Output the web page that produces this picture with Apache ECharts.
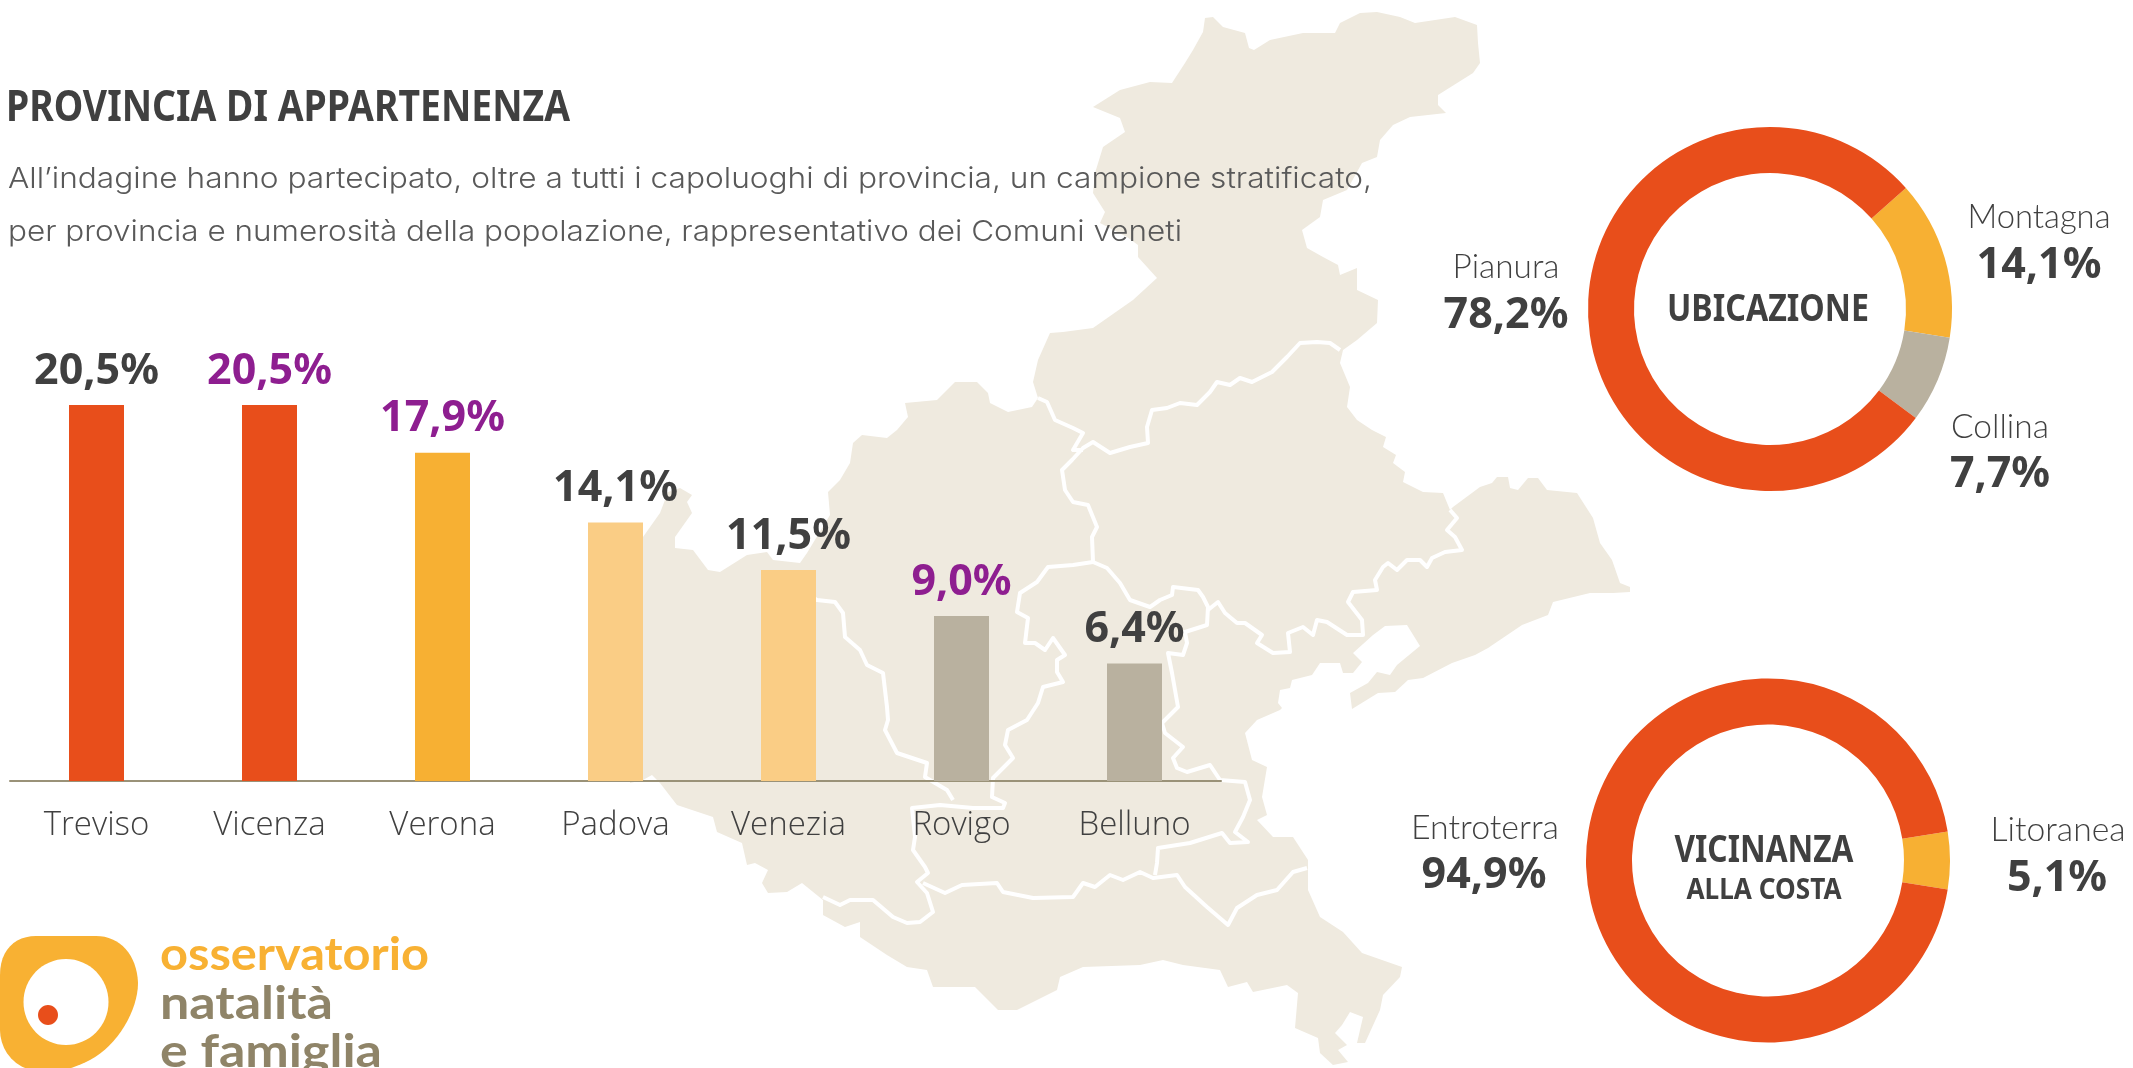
<!DOCTYPE html>
<html><head><meta charset="utf-8">
<style>html,body{margin:0;padding:0;background:#fff}#c{width:2133px;height:1068px}</style>
<script src="https://cdn.jsdelivr.net/npm/echarts@6/dist/echarts.min.js"></script>
</head><body><div id="c"></div>
<script>
const provinces=['Treviso','Vicenza','Verona','Padova','Venezia','Rovigo','Belluno'];
const shares=[20.5,20.5,17.9,14.1,11.5,9.0,6.4];
const barColors=['#E84E1B','#E84E1B','#F7B033','#FACD85','#FACD85','#B9B19F','#B9B19F'];
const labelColors=['#404040','#8E1E90','#8E1E90','#404040','#404040','#8E1E90','#404040'];
const ubicazioneNames=['Montagna','Collina','Pianura'];
const ubicazioneValues=[14.1,7.7,78.2];
const ubicazioneColors=['#F7B033','#B9B19F','#E84E1B'];
const costaNames=['Litoranea','Entroterra'];
const costaValues=[5.1,94.9];
const costaColors=['#F7B033','#E84E1B'];
const BOLD="'Noto Sans'";
const LIGHT="Lato";
const AXISFONT="'Open Sans'";
const fmt=v=>v.toFixed(1).replace('.',',')+'%';

// decorative region silhouette behind the chart (page pixels)
const outline=[[1093,107],[1120,90],[1150,82],[1172,83],[1185,63],[1193,50],[1203,32],[1205,18],[1213,17],[1223,27],[1245,33],[1249,48],[1254,50],[1270,40],[1303,33],[1335,33],[1340,23],[1360,13],[1377,12],[1400,17],[1415,23],[1455,17],[1477,25],[1478,43],[1480,63],[1473,73],[1438,95],[1438,105],[1446,113],[1410,117],[1393,125],[1380,140],[1377,157],[1362,163],[1347,190],[1323,200],[1320,217],[1302,230],[1307,248],[1323,257],[1338,265],[1340,275],[1357,268],[1357,290],[1378,300],[1377,323],[1357,340],[1343,350],[1340,363],[1350,387],[1347,407],[1357,420],[1372,430],[1386,437],[1383,447],[1396,455],[1393,463],[1405,472],[1403,482],[1423,492],[1443,493],[1450,510],[1453,507],[1480,487],[1492,483],[1497,477],[1508,477],[1510,488],[1518,490],[1528,478],[1538,478],[1547,490],[1577,493],[1593,518],[1600,543],[1612,560],[1620,583],[1630,587],[1630,592],[1613,593],[1590,593],[1553,602],[1548,615],[1522,625],[1488,648],[1475,655],[1452,663],[1423,678],[1408,680],[1395,692],[1378,693],[1352,709],[1350,693],[1368,683],[1377,672],[1390,675],[1397,665],[1420,646],[1407,625],[1385,626],[1373,635],[1353,653],[1362,662],[1353,673],[1343,673],[1340,663],[1320,663],[1312,675],[1292,680],[1290,688],[1280,690],[1278,703],[1282,708],[1280,710],[1257,720],[1245,733],[1252,760],[1267,767],[1262,797],[1267,815],[1257,820],[1273,837],[1293,837],[1308,860],[1308,890],[1320,917],[1343,932],[1362,953],[1402,967],[1400,977],[1383,995],[1380,1010],[1365,1043],[1357,1043],[1363,1017],[1350,1012],[1342,1025],[1335,1033],[1347,1045],[1338,1050],[1348,1062],[1333,1065],[1320,1053],[1318,1038],[1295,1028],[1298,993],[1287,985],[1253,992],[1247,982],[1228,987],[1220,970],[1183,965],[1163,960],[1140,965],[1083,967],[1060,977],[1057,990],[1017,1010],[998,1010],[975,987],[933,987],[927,970],[907,967],[887,955],[860,937],[860,922],[845,927],[823,915],[823,900],[802,883],[787,892],[768,893],[762,883],[768,870],[755,863],[747,865],[742,843],[717,832],[713,817],[677,805],[660,783],[652,775],[643,780],[630,783],[630,540],[643,537],[660,513],[668,492],[680,488],[692,495],[687,502],[692,513],[675,537],[675,548],[693,550],[708,570],[720,572],[747,555],[767,552],[773,560],[800,563],[807,553],[830,515],[828,492],[840,480],[850,463],[853,443],[862,435],[887,438],[897,430],[908,417],[905,403],[937,400],[955,382],[977,382],[988,393],[990,403],[1008,412],[1032,407],[1038,398],[1033,382],[1038,360],[1050,333],[1063,332],[1093,328],[1133,300],[1157,278],[1138,257],[1138,245],[1127,237],[1100,223],[1105,212],[1093,193],[1095,173],[1103,147],[1125,132],[1120,118]];
const borders=[
[[1340,350],[1330,343],[1317,342],[1300,343],[1287,357],[1272,372],[1252,382],[1240,378],[1230,385],[1217,382],[1210,392],[1197,405],[1180,403],[1167,408],[1152,410],[1147,427],[1148,443],[1130,447],[1110,453],[1093,442],[1083,448],[1072,460],[1062,470],[1065,490],[1073,502],[1088,505],[1097,527],[1092,537],[1093,562]],
[[1038,398],[1047,402],[1055,420],[1073,428],[1083,433],[1073,450],[1083,450]],
[[1093,562],[1073,565],[1048,567],[1037,582],[1020,593],[1017,612],[1028,618],[1025,643],[1035,643],[1045,650],[1053,638],[1065,655],[1057,660],[1057,672],[1063,682],[1043,687],[1038,703],[1027,720],[1008,730],[1005,745],[1013,758],[993,778],[992,797],[1005,803],[1003,808],[973,808],[940,805],[912,808],[915,837],[913,850],[925,867],[928,873],[917,882],[927,893],[933,912],[920,922],[907,923],[893,917],[873,900],[850,900],[840,905],[823,897]],
[[953,800],[947,790],[935,783],[925,777],[927,763],[897,753],[885,730],[888,720],[887,707],[883,673],[867,665],[860,650],[845,637],[843,613],[835,602],[817,600],[800,590]],
[[923,883],[945,893],[962,885],[997,883],[1003,892],[1033,898],[1073,897],[1083,883],[1095,887],[1110,875],[1123,880],[1140,872],[1153,878],[1177,875],[1185,887],[1207,907],[1228,925],[1237,908],[1257,895],[1277,890],[1293,872],[1307,868]],
[[1155,875],[1157,863],[1158,848],[1190,843],[1222,833],[1230,843],[1248,842],[1235,832],[1243,817],[1250,800],[1245,782],[1220,780],[1210,765],[1187,772],[1177,768],[1173,758],[1183,747],[1165,733],[1162,723],[1178,707],[1172,673],[1168,653],[1183,655],[1187,643],[1185,632],[1207,625],[1208,607],[1203,597],[1198,590],[1173,587],[1172,595],[1160,600],[1150,607],[1130,600],[1120,583],[1107,568],[1093,562]],
[[1208,610],[1218,602],[1225,613],[1237,623],[1245,623],[1262,635],[1257,643],[1273,653],[1290,652],[1288,633],[1303,627],[1313,635],[1317,620],[1327,622],[1347,635],[1363,635],[1362,620],[1348,602],[1353,592],[1377,590],[1375,580],[1383,567],[1388,563],[1397,570],[1407,560],[1420,560],[1427,567],[1432,558],[1445,552],[1462,550],[1455,537],[1447,530],[1457,518],[1450,510]]
];

// logo outline sampled from cubic segments
function cubic(p0,p1,p2,p3,n){const r=[];for(let i=0;i<=n;i++){const t=i/n,u=1-t;
  r.push([u*u*u*p0[0]+3*u*u*t*p1[0]+3*u*t*t*p2[0]+t*t*t*p3[0],u*u*u*p0[1]+3*u*u*t*p1[1]+3*u*t*t*p2[1]+t*t*t*p3[1]]);}return r;}
const logoShape=[
 ...cubic([96,936],[120,936],[137,955],[138,983],16),
 ...cubic([138,983],[138,1010],[118,1045],[90,1060],16),
 ...cubic([90,1060],[75,1068],[60,1072],[45,1072],10),
 ...cubic([45,1072],[15,1072],[0,1050],[0,1030],10),
 ...cubic([0,975],[0,950],[15,936],[36,936],12)];

const measure=document.createElement('canvas').getContext('2d');
function txt(x,base,str,size,opt={}){
  const font=(opt.weight||'normal')+' '+size+'px '+(opt.family||BOLD);
  let sx=opt.sx||1;
  if(opt.w){measure.font=font;sx=opt.w/measure.measureText(str).width;}
  return {type:'text',x:x,y:base-size*(opt.k||0.36),z:100,silent:true,scaleX:sx,style:{
    text:str,font:font,fill:opt.color||'#404040',align:opt.align||'center',verticalAlign:'middle'}};
}
const cap=(x,b,s,w)=>txt(x,b+2,s,33,{family:LIGHT,weight:'300',w:w});
const val=(x,b,v)=>txt(x,b+3,fmt(v),43,{weight:'bold'});
const graphics=[
 {type:'polygon',z:-5,silent:true,shape:{points:outline},style:{fill:'#EFEADF'}},
 ...borders.map(b=>({type:'polyline',z:-4,silent:true,shape:{points:b},style:{stroke:'#fff',lineWidth:4,fill:null,lineJoin:'round'}})),
 txt(6,124,'PROVINCIA DI APPARTENENZA',43,{align:'left',weight:'bold',w:564}),
 txt(8,190,"All’indagine hanno partecipato, oltre a tutti i capoluoghi di provincia, un campione stratificato,",29,{align:'left',family:"Inter",weight:'300',color:'#595959',w:1364}),
 txt(8,243,"per provincia e numerosità della popolazione, rappresentativo dei Comuni veneti",29,{align:'left',family:"Inter",weight:'300',color:'#595959',w:1174}),
 {type:'polygon',z:5,silent:true,shape:{points:logoShape},style:{fill:'#F8B133'}},
 {type:'ellipse',z:6,silent:true,shape:{cx:66,cy:1002,rx:42.5,ry:43},style:{fill:'#fff'}},
 {type:'ellipse',z:7,silent:true,shape:{cx:48,cy:1015,rx:10,ry:10},style:{fill:'#E84E1B'}},
 txt(160,972,'osservatorio',46,{align:'left',family:'Lato',weight:'bold',color:'#F8B133',w:269}),
 txt(160,1021,'natalità',46,{align:'left',family:'Lato',weight:'bold',color:'#8F8468',w:173}),
 txt(160,1069,'e famiglia',46,{align:'left',family:'Lato',weight:'bold',color:'#8F8468',w:222}),
 cap(1506,277,ubicazioneNames[2],107),
 val(1506,328,ubicazioneValues[2]),
 cap(2039,227,ubicazioneNames[0],143),
 val(2039,278,ubicazioneValues[0]),
 cap(2000,437,ubicazioneNames[1],98),
 val(2000,487,ubicazioneValues[1]),
 txt(1768,324,'UBICAZIONE',37,{weight:'bold',w:202}),
 cap(1485,838,costaNames[1],148),
 val(1484,888,costaValues[1]),
 cap(2058,840,costaNames[0],135),
 val(2057,891,costaValues[0]),
 txt(1764,865,'VICINANZA',37,{weight:'bold',w:179}),
 txt(1764,901,'ALLA COSTA',29,{weight:'bold',w:155})
];

const chart=echarts.init(document.getElementById('c'),null,{renderer:'canvas'});
const pie=(names,values,colors,cx,cy,start)=>({type:'pie',center:[cx,cy],radius:[136,182],startAngle:start,clockwise:true,silent:true,
  label:{show:false},labelLine:{show:false},itemStyle:{borderWidth:0},emphasis:{disabled:true},animation:false,
  data:names.map((n,i)=>({name:n,value:values[i],itemStyle:{color:colors[i]}}))});
chart.setOption({
 animation:false,backgroundColor:'#fff',
 grid:{left:10,width:1211,top:322.5,height:458.5,containLabel:false},
 xAxis:{type:'category',data:provinces,axisTick:{show:false},
   axisLine:{lineStyle:{color:'#9A9278',width:2}},
   axisLabel:{color:'#404040',fontSize:33,fontFamily:AXISFONT,fontWeight:300,margin:28}},
 yAxis:{type:'value',min:0,max:25,show:false},
 graphic:graphics,
 series:[
  {type:'bar',barWidth:55,z:3,silent:true,
   data:shares.map((v,i)=>({value:v,itemStyle:{color:barColors[i]},
     label:{show:true,position:'top',distance:12,formatter:fmt(v),color:labelColors[i],fontSize:43,fontWeight:'bold',fontFamily:BOLD}}))},
  pie(ubicazioneNames,ubicazioneValues,ubicazioneColors,1770,309,41.7),
  pie(costaNames,costaValues,costaColors,1768,860.5,9.18)
 ]
});
</script></body></html>
